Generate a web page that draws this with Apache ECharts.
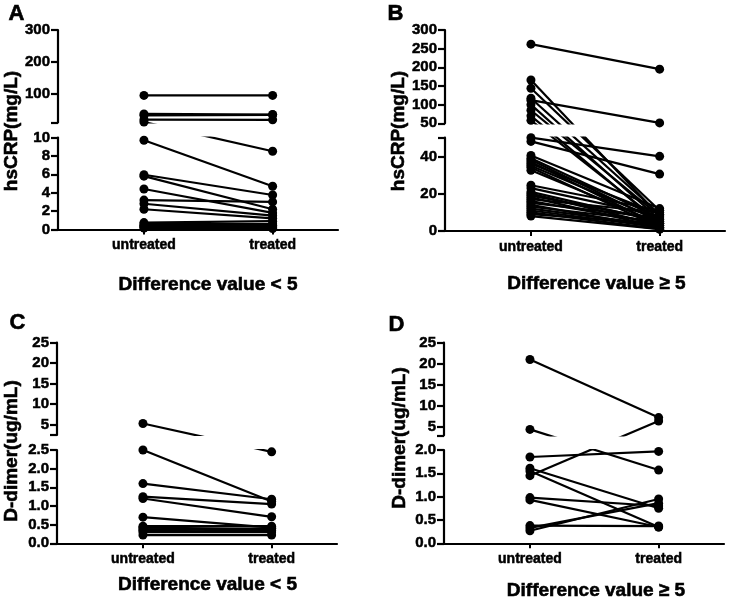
<!DOCTYPE html>
<html>
<head>
<meta charset="utf-8">
<script src="https://cdn.jsdelivr.net/npm/echarts@6/dist/echarts.min.js"></script>
<style>
  html, body { margin: 0; padding: 0; background: #fff; }
  #chart { width: 750px; height: 600px; }
</style>
</head>
<body>
<div id="chart"></div>
<script>
const FONT = '"Liberation Sans", Arial, sans-serif'
const groups = ['untreated', 'treated']

// A: hsCRP, difference value < 5
const aUntreated = [95, 37, 32, 19, 11.5, 9.7, 5.95, 5.8, 4.4, 3.2, 2.8, 2.2, 0.75, 0.6, 0.45, 0.35, 0.25, 0.15]
const aTreated = [95, 35, 34, 18.5, 8.5, 4.7, 3.75, 2.2, 1.8, 3.0, 1.5, 1.2, 0.9, 0.6, 0.45, 0.3, 0.2, 0.1]

// B: hsCRP, difference value >= 5
const bUntreated = [262, 166, 144, 117, 112, 100, 85, 70, 58, 50, 48, 40.5, 39, 38, 37, 36, 35, 34, 32.5, 24.5,
  23, 21, 20, 19, 18, 17, 16, 15, 14, 13, 12, 11, 10, 9, 8]
const bTreated = [195, 8, 11, 9, 51, 6, 8, 4, 5, 40, 30.5, 12, 7, 5, 3, 9, 6, 2, 4, 11,
  8, 5, 3, 6, 2, 10, 4, 7, 1.5, 5, 3, 2, 1, 4, 1]

// C: D-dimer, difference value < 5
const cUntreated = [5.3, 2.5, 1.6, 1.25, 1.2, 0.7, 0.46, 0.42, 0.38, 0.34, 0.3, 0.22]
const cTreated = [2.45, 1.12, 1.18, 1.05, 0.71, 0.42, 0.46, 0.38, 0.34, 0.4, 0.3, 0.22]

// D: D-dimer, difference value >= 5
const dUntreated = [21, 4.4, 1.85, 1.45, 1.61, 1.55, 0.98, 0.93, 0.38, 0.27, 0.33]
const dTreated = [7.2, 1.57, 1.97, 6.4, 0.75, 0.35, 0.8, 0.35, 0.37, 0.95, 0.86]

// tick positions of the broken y axes
const aUpperTicks = [10, 100, 200, 300]
const aUpperLabels = [100, 200, 300]
const bLowerTicks = [0, 20, 40, 50]
const bLowerLabels = [0, 20, 40]
const cUpperTicks = [2.5, 5, 10, 15, 20, 25]
const dUpperTicks = [3, 5, 10, 15, 20, 25]
const dimerUpperLabels = [5, 10, 15, 20, 25]

const panels = [
  {
    letter: 'A', untreated: aUntreated, treated: aTreated, left: 58,
    up: { top: 30, bottom: 122.5, min: 10, max: 300, ticks: aUpperTicks, labels: aUpperLabels },
    low: { top: 137.5, bottom: 229.5, min: 0, max: 10, interval: 2 },
    yName: 'hsCRP(mg/L)', yNamePos: [12, 131], letterPos: [16.5, 13.5],
    title: 'Difference value < 5', titlePos: [208, 285]
  },
  {
    letter: 'B', untreated: bUntreated, treated: bTreated, left: 445,
    up: { top: 30, bottom: 123.3, min: 50, max: 300, interval: 50 },
    low: { top: 137.7, bottom: 231, min: 0, max: 50, ticks: bLowerTicks, labels: bLowerLabels },
    yName: 'hsCRP(mg/L)', yNamePos: [399, 131], letterPos: [395.5, 14],
    title: 'Difference value ≥ 5', titlePos: [596.5, 284]
  },
  {
    letter: 'C', untreated: cUntreated, treated: cTreated, left: 57,
    up: { top: 342.7, bottom: 435, min: 2.5, max: 25, ticks: cUpperTicks, labels: dimerUpperLabels },
    low: { top: 450, bottom: 543.3, min: 0, max: 2.5, interval: 0.5, decimals: 1 },
    yName: 'D-dimer(ug/mL)', yNamePos: [12, 451], letterPos: [17.5, 323],
    title: 'Difference value < 5', titlePos: [207.5, 585]
  },
  {
    letter: 'D', untreated: dUntreated, treated: dTreated, left: 444,
    up: { top: 342.7, bottom: 435.3, min: 3, max: 25, ticks: dUpperTicks, labels: dimerUpperLabels },
    low: { top: 450, bottom: 543.3, min: 0, max: 2, interval: 0.5, decimals: 1 },
    yName: 'D-dimer(ug/mL)', yNamePos: [400, 438], letterPos: [396.5, 325],
    title: 'Difference value ≥ 5', titlePos: [596, 591]
  }
]

const X_MIN = 0.332
const X_MAX = 2.508
const PLOT_W = 280

// heavy black text, close to the bold face of the original
const labelStyle = { color: '#000', fontWeight: 'bold', fontFamily: FONT, textBorderColor: '#000', textBorderWidth: 0.5 }

const grids = []
const xAxes = []
const yAxes = []
const graphics = []

panels.forEach((p) => {
  ;[p.up, p.low].forEach((seg, k) => {
    const gi = grids.length
    grids.push({ left: p.left, top: seg.top, width: PLOT_W, height: seg.bottom - seg.top })
    const isLow = k === 1
    xAxes.push({
      type: 'value', gridIndex: gi, min: X_MIN, max: X_MAX, show: isLow,
      axisLine: { show: true, onZero: false, lineStyle: { color: '#000', width: 2.2 } },
      axisTick: { show: true, customValues: [1, 2], length: 5, lineStyle: { color: '#000', width: 2 } },
      axisLabel: {
        ...labelStyle, fontSize: 14, margin: 9, customValues: [1, 2],
        formatter: (v) => groups[Math.round(v) - 1]
      },
      splitLine: { show: false }
    })
    const ax = {
      type: 'value', gridIndex: gi, min: seg.min, max: seg.max,
      axisLine: { show: true, onZero: false, lineStyle: { color: '#000', width: 2.2 } },
      axisTick: { show: true, length: 7, lineStyle: { color: '#000', width: 2.2 } },
      axisLabel: {
        ...labelStyle, fontSize: 15, margin: 8,
        formatter: (v) => (seg.decimals ? v.toFixed(seg.decimals) : String(v))
      },
      splitLine: { show: false }
    }
    if (seg.ticks) {
      ax.axisTick.customValues = seg.ticks
      ax.axisLabel.customValues = seg.labels
    } else {
      ax.interval = seg.interval
    }
    yAxes.push(ax)
  })

  const textStyle = (text, size) => ({
    text, fill: '#000', stroke: '#000', lineWidth: 0.6,
    font: 'bold ' + size + 'px ' + FONT, align: 'center', verticalAlign: 'middle'
  })
  graphics.push({ type: 'text', x: p.letterPos[0], y: p.letterPos[1], style: textStyle(p.letter, 22) })
  graphics.push({
    type: 'text', x: p.yNamePos[0], y: p.yNamePos[1], rotation: Math.PI / 2,
    style: textStyle(p.yName, 19)
  })
  graphics.push({ type: 'text', x: p.titlePos[0], y: p.titlePos[1], style: textStyle(p.title, 19) })
})

const chart = echarts.init(document.getElementById('chart'), null, { renderer: 'canvas' })
chart.setOption({
  animation: false,
  backgroundColor: '#fff',
  grid: grids,
  xAxis: xAxes,
  yAxis: yAxes,
  graphic: graphics,
  series: []
})

// a pair is drawn in each segment it touches; the end point in the other
// segment is re-expressed in this segment's scale so the line stays straight
const series = []
panels.forEach((p, pi) => {
  const upIdx = pi * 2
  const lowIdx = pi * 2 + 1
  p.untreated.forEach((u, i) => {
    const t = p.treated[i]
    const segOf = (v) => (v > p.low.max ? upIdx : lowIdx)
    const pts = [u, t].map((v) => ({ seg: segOf(v), px: chart.convertToPixel({ yAxisIndex: segOf(v) }, v) }))
    const used = new Set(pts.map((d) => d.seg))
    used.forEach((idx) => {
      const data = pts.map((d, j) => [j + 1, chart.convertFromPixel({ yAxisIndex: idx }, d.px)])
      series.push({
        type: 'line', xAxisIndex: idx, yAxisIndex: idx, data,
        symbol: 'circle', symbolSize: 9, showSymbol: true, clip: true, silent: true,
        lineStyle: { color: '#000', width: 2.2 }, itemStyle: { color: '#000' }
      })
    })
  })
})

chart.setOption({ series })
</script>
</body>
</html>
